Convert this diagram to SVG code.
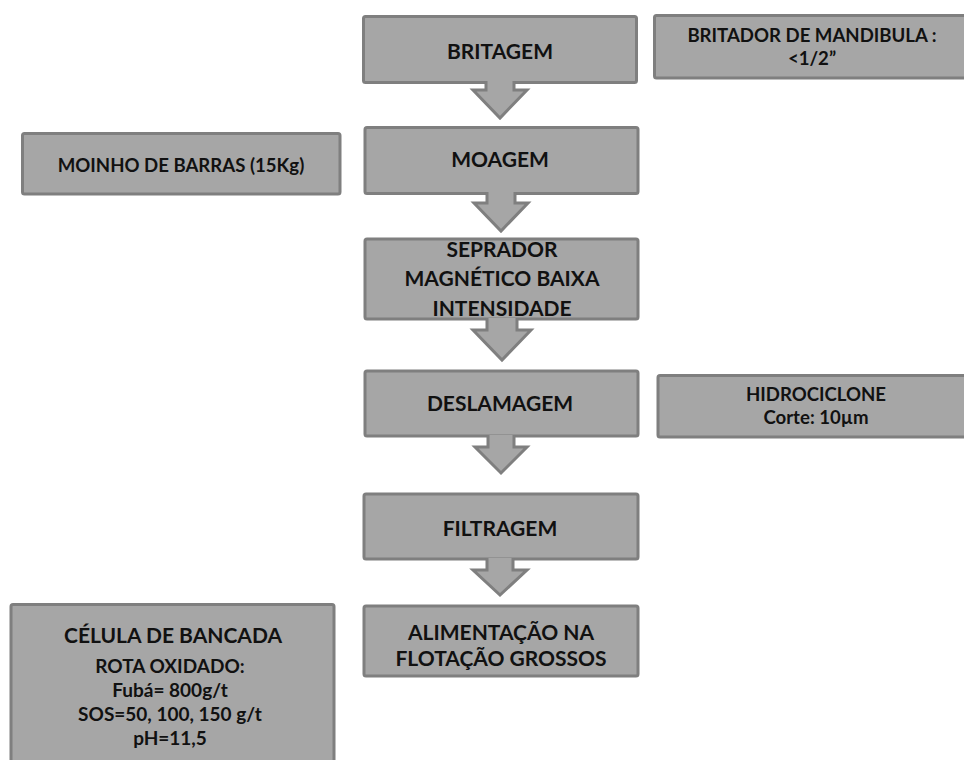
<svg xmlns="http://www.w3.org/2000/svg" width="964" height="760" viewBox="0 0 964 760">
<defs>
<style>
.box{fill:#a6a6a6;stroke:#7f7f7f;stroke-width:3}
.arr{fill:#a6a6a6;stroke:#7f7f7f;stroke-width:3;stroke-linejoin:miter}
text{font-family:Lato,"Open Sans","Liberation Sans",sans-serif;font-weight:bold;fill:#111;text-anchor:middle}
.big{font-size:21px}
.mid{font-size:18.6px}
.cel{font-size:19px}
</style>
</defs>
<rect width="964" height="760" fill="#ffffff"/>
<g id="britagem"><rect class="box" x="363.5" y="16.5" width="273" height="66" rx="2"/><text class="big" x="500" y="59">BRITAGEM</text></g>
<g id="britador"><rect class="box" x="654.5" y="15.5" width="314" height="62.5" rx="2"/><text class="mid" x="812" y="42">BRITADOR DE MANDIBULA :</text><text class="mid" x="812" y="65">&lt;1/2”</text></g>
<g id="moinho"><rect class="box" x="22.5" y="133.5" width="317.5" height="60.5" rx="2"/><text class="mid" x="181" y="172">MOINHO DE BARRAS (15Kg)</text></g>
<g id="moagem"><rect class="box" x="365" y="127.5" width="273" height="66" rx="2"/><text class="big" x="500" y="167">MOAGEM</text></g>
<g id="seprador"><rect class="box" x="365" y="239" width="273" height="80" rx="2"/><text class="big" x="502" y="257">SEPRADOR</text><text class="big" x="502" y="286">MAGNÉTICO BAIXA</text><text class="big" x="502" y="316">INTENSIDADE</text></g>
<g id="deslamagem"><rect class="box" x="365" y="371" width="273" height="65" rx="2"/><text class="big" x="500" y="411">DESLAMAGEM</text></g>
<g id="hidrociclone"><rect class="box" x="658" y="375.5" width="317" height="61.5" rx="2"/><text class="mid" x="816" y="401">HIDROCICLONE</text><text class="mid" x="816" y="424">Corte: 10µm</text></g>
<g id="filtragem"><rect class="box" x="364" y="494" width="274" height="65" rx="2"/><text class="big" x="500" y="536">FILTRAGEM</text></g>
<g id="alimentacao"><rect class="box" x="364" y="606" width="274" height="70" rx="2"/><text class="big" x="501" y="640">ALIMENTAÇÃO NA</text><text class="big" x="501" y="666">FLOTAÇÃO GROSSOS</text></g>
<g id="celula"><rect class="box" x="11" y="604.5" width="323" height="170" rx="2"/><text class="big" x="173" y="643">CÉLULA DE BANCADA</text><text class="cel" x="170" y="673">ROTA OXIDADO:</text><text class="cel" x="170" y="697">Fubá= 800g/t</text><text class="cel" x="170" y="721">SOS=50, 100, 150 g/t</text><text class="cel" x="170" y="745">pH=11,5</text></g>
<g id="connectors">
<path class="arr" d="M486,81 L486,90 L473,90 L500,118 L527,90 L514,90 L514,81"/>
<path class="arr" d="M487,192 L487,203 L474,203 L501,231 L528,203 L515,203 L515,192"/>
<path class="arr" d="M487,318 L487,330 L473,330 L502,360 L531,330 L517,330 L517,318"/>
<path class="arr" d="M488,435 L488,447 L475,447 L501,473 L527,447 L514,447 L514,435"/>
<path class="arr" d="M487,558 L487,570 L473,570 L500,595 L527,570 L513,570 L513,558"/>
</g>
</svg>
